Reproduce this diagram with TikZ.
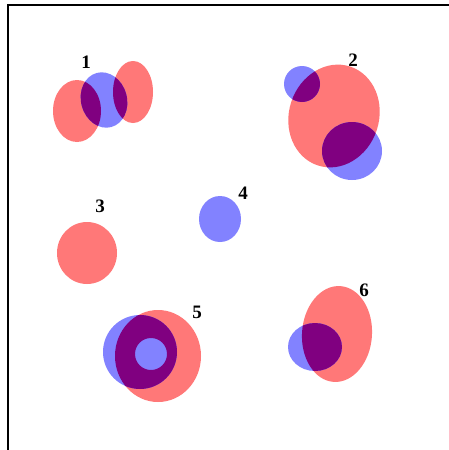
\documentclass[tikz,border=0pt]{standalone}
\usepackage{fontspec}
\setmainfont{Liberation Serif}
\definecolor{redc}{HTML}{FF7878}
\definecolor{bluec}{HTML}{8282FF}
\definecolor{purc}{HTML}{800080}
\tikzset{
  lbl/.style={font=\fontsize{19}{19}\selectfont\bfseries, inner sep=0pt},
  frame/.style={draw=black, line width=1.5pt}
}
\begin{document}
\begin{tikzpicture}[x=1pt,y=-1pt]
\useasboundingbox (0,0) rectangle (449,450);
\fill[white] (0,0) rectangle (449,450);
\coordinate (tl) at (8,5);
\coordinate (tr) at (449,5);
\coordinate (bl) at (8,450);
\draw[frame] (bl) -- (tl) -- (tr);

% ---- group 1
\def\rA{(77,111) ellipse [x radius=24pt, y radius=31pt]}
\def\rB{(133,92) ellipse [x radius=20pt, y radius=31pt]}
\def\bA{(104,100) ellipse [x radius=23pt, y radius=28pt, rotate=15]}
\fill[redc] \rA; \fill[redc] \rB;
\fill[bluec] \bA;
\begin{scope}\clip \rA; \fill[purc] \bA; \end{scope}
\begin{scope}\clip \rB; \fill[purc] \bA; \end{scope}
\node[lbl] (l1) at (86,62) {1};

% ---- group 2
\def\rC{(334,116) ellipse [x radius=45pt, y radius=52pt, rotate=-18]}
\def\bB{(302,84) circle [radius=18pt]}
\def\bC{(352,151) ellipse [x radius=30pt, y radius=29pt]}
\fill[redc] \rC;
\fill[bluec] \bB; \fill[bluec] \bC;
\begin{scope}\clip \rC; \fill[purc] \bB; \fill[purc] \bC; \end{scope}
\node[lbl] (l2) at (353,60) {2};

% ---- group 3
\fill[redc] (87,253) ellipse [x radius=30pt, y radius=31pt];
\node[lbl] (l3) at (100,206) {3};

% ---- group 4
\fill[bluec] (220,219) ellipse [x radius=21pt, y radius=23pt];
\node[lbl] (l4) at (243,193) {4};

% ---- group 5
\def\rD{(158,356) ellipse [x radius=43pt, y radius=46pt]}
\def\hD{(151,354) circle [radius=16pt]}
\def\bD{(140,352) circle [radius=37pt]}
\fill[redc, even odd rule] \rD \hD;
\fill[bluec] \bD;
\begin{scope}\clip \rD; \fill[purc, even odd rule] \bD \hD; \end{scope}
\node[lbl] (l5) at (197,312) {5};

% ---- group 6
\def\rE{(337,334) ellipse [x radius=35pt, y radius=48pt, rotate=-4]}
\def\bE{(315,347) ellipse [x radius=27pt, y radius=24pt]}
\fill[redc] \rE;
\fill[bluec] \bE;
\begin{scope}\clip \rE; \fill[purc] \bE; \end{scope}
\node[lbl] (l6) at (364,290) {6};
\end{tikzpicture}
\end{document}
